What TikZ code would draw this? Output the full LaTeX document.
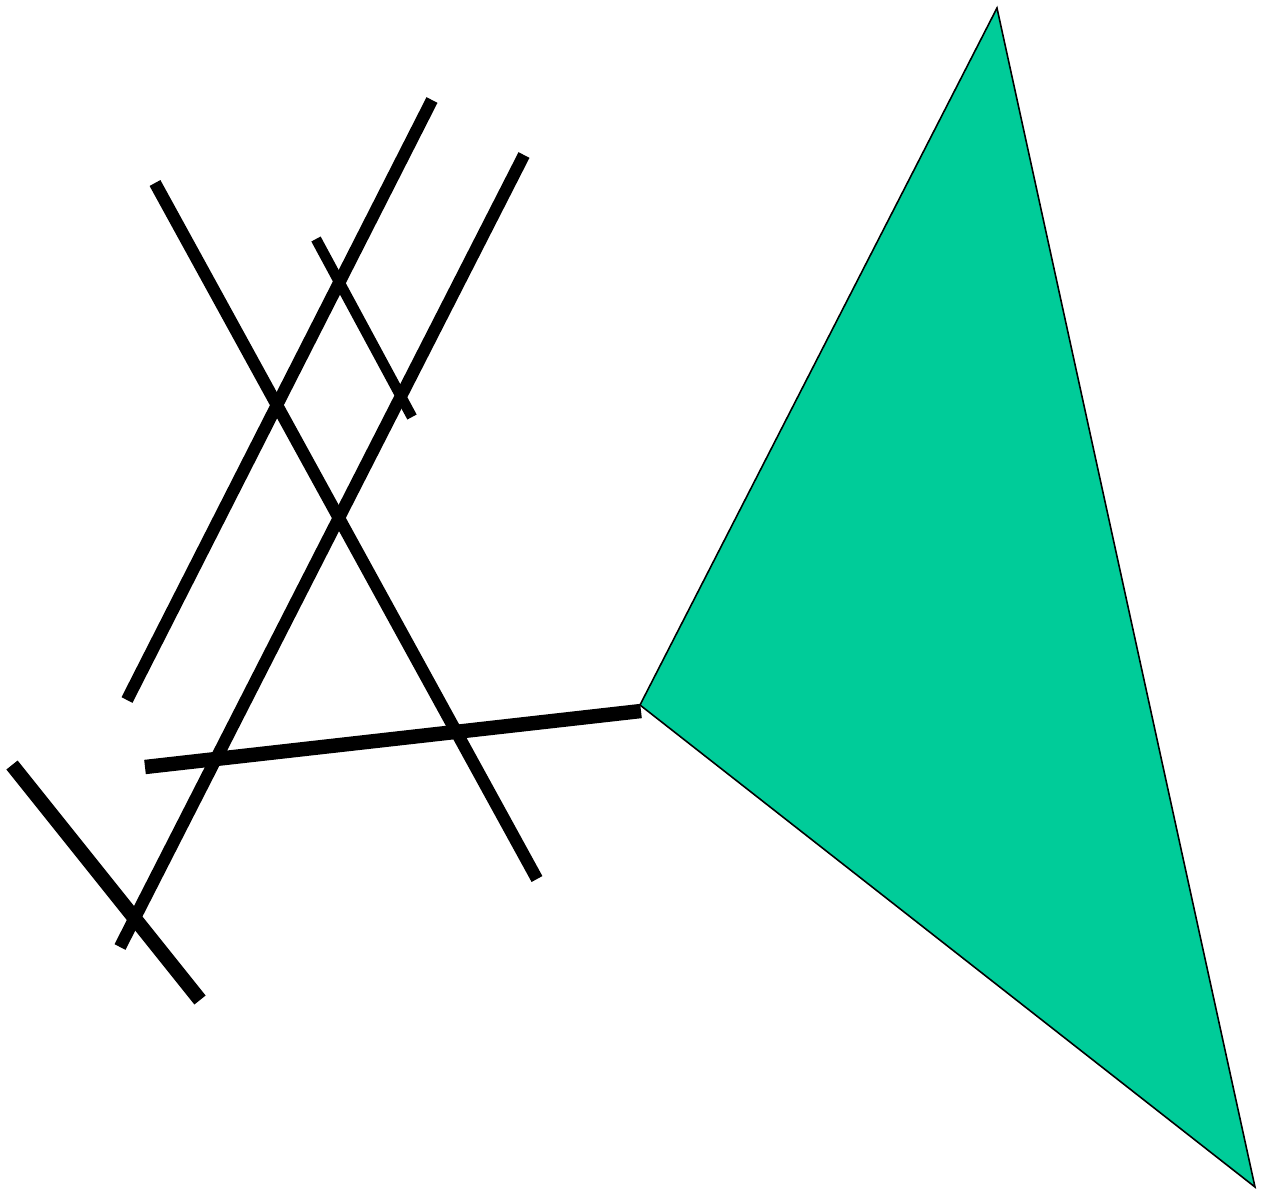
\documentclass[tikz,border=0pt]{standalone}
\usepackage{xcolor}
\usepackage{tikz}
\definecolor{sheetgreen}{HTML}{00CC99}

\begin{document}
\begin{tikzpicture}[
x=0.01cm,
y=-0.01cm,
stick/.style={draw=black,line width=3.5pt,line cap=butt},
heavystick/.style={draw=black,line width=4.1pt,line cap=butt},
twig/.style={draw=black,line width=3pt,line cap=butt},
sheet/.style={draw=black,line width=0.45pt,fill=sheetgreen,line join=miter}
]
\useasboundingbox (0,0) rectangle (1262,1193);
\coordinate (apex) at (997,8);
\coordinate (hinge) at (640,705);
\coordinate (tip) at (1255,1187);
\filldraw[sheet] (apex) -- (hinge) -- (tip) -- cycle;
\draw[stick] (432,100) -- (127,700);
\draw[stick] (524,155) -- (120,947);
\draw[stick] (155,183) -- (537,879);
\draw[twig] (316,239) -- (412,417);
\draw[heavystick] (145,767) -- (641,711);
\draw[heavystick] (12,765) -- (200,1000);
\end{tikzpicture}
\end{document}
